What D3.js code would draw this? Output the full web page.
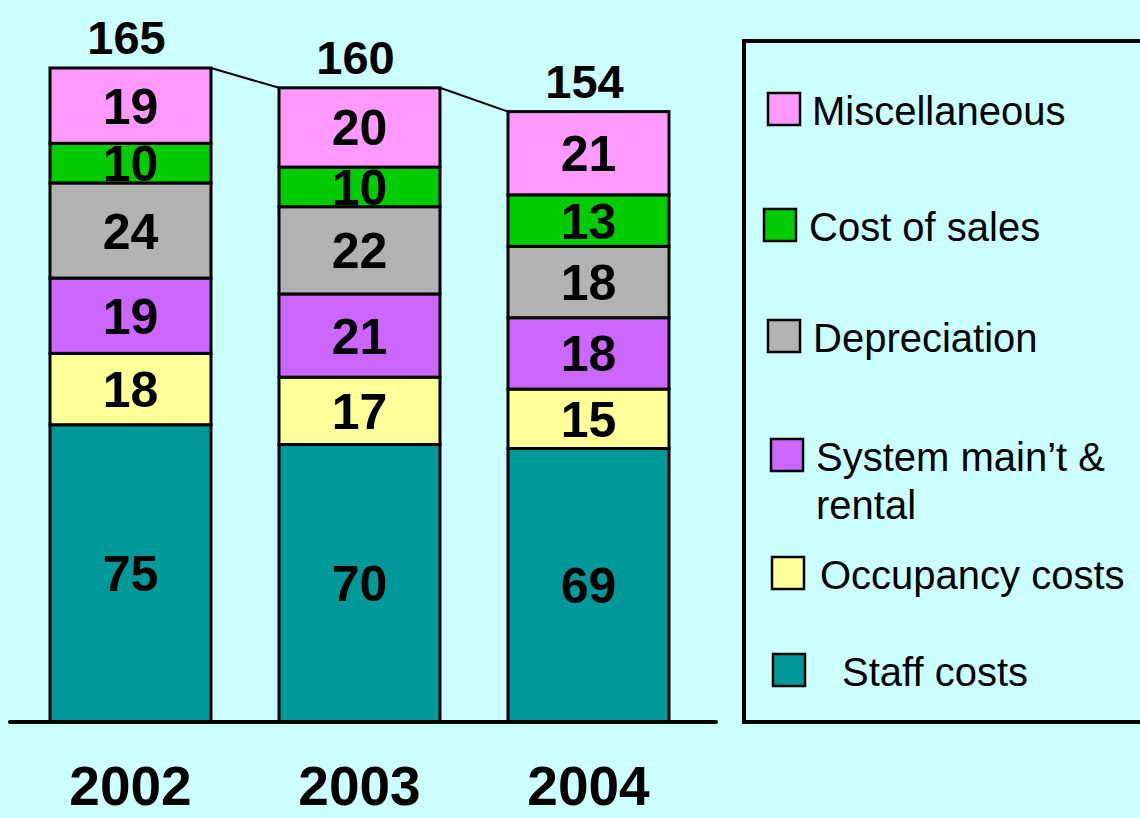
<!DOCTYPE html>
<html>
<head>
<meta charset="utf-8">
<script src="https://cdn.jsdelivr.net/npm/d3@7"></script>
<style>
  html, body { margin: 0; padding: 0; background: #CCFFFF; }
  svg { display: block; font-family: "Liberation Sans", Arial, sans-serif; }
</style>
</head>
<body>
<div id="chart"></div>
<script>
// data
const years = ["2002", "2003", "2004"];
const seriesKeys = ["staff", "occupancy", "system", "depreciation", "costOfSales", "misc"];
const seriesNames = ["Staff costs", "Occupancy costs", "System main\u2019t & rental", "Depreciation", "Cost of sales", "Miscellaneous"];
const seriesColors = ["#009999", "#FFFF99", "#CC66FF", "#B2B2B2", "#00CC00", "#FF99FF"];
const staff = [75, 70, 69];
const occupancy = [18, 17, 15];
const system = [19, 21, 18];
const depreciation = [24, 22, 18];
const costOfSales = [10, 10, 13];
const misc = [19, 20, 21];
const totals = [165, 160, 154];

const width = 1140, height = 818;

const svg = d3.select("#chart")
    .append("svg")
    .attr("width", width)
    .attr("height", height);

svg.append("rect")
    .attr("width", width)
    .attr("height", height)
    .attr("fill", "#CCFFFF");

// build rows for d3.stack
const values = {staff, occupancy, system, depreciation, costOfSales, misc};
const rows = years.map((y, i) => {
    const r = {year: y};
    seriesKeys.forEach(k => r[k] = values[k][i]);
    return r;
});
const stacked = d3.stack().keys(seriesKeys)(rows);

const x = d3.scaleBand()
    .domain(years)
    .range([50, 669])
    .paddingInner(0.297)
    .paddingOuter(0);

const y = d3.scaleLinear()
    .domain([0, 165])
    .range([722, 68]);

// connector lines between bar tops
for (let i = 0; i < years.length - 1; i++) {
    svg.append("line")
        .attr("x1", x(years[i]) + x.bandwidth())
        .attr("y1", y(totals[i]))
        .attr("x2", x(years[i + 1]))
        .attr("y2", y(totals[i + 1]))
        .attr("stroke", "black")
        .attr("stroke-width", 2);
}

// stacked segments
const layer = svg.append("g")
    .selectAll("g")
    .data(stacked)
    .join("g")
    .attr("fill", (d, i) => seriesColors[i]);

layer.selectAll("rect")
    .data(d => d)
    .join("rect")
    .attr("x", d => x(d.data.year))
    .attr("y", d => y(d[1]))
    .attr("width", x.bandwidth())
    .attr("height", d => y(d[0]) - y(d[1]))
    .attr("stroke", "black")
    .attr("stroke-width", 3);

layer.selectAll("text")
    .data(d => d)
    .join("text")
    .attr("x", d => x(d.data.year) + x.bandwidth() / 2)
    .attr("y", d => (y(d[0]) + y(d[1])) / 2 + 18)
    .attr("text-anchor", "middle")
    .attr("fill", "black")
    .style("font-size", "50px")
    .style("font-weight", "bold")
    .text(d => d[1] - d[0]);

// totals above bars
svg.append("g")
    .selectAll("text")
    .data(totals)
    .join("text")
    .attr("x", (d, i) => x(years[i]) + x.bandwidth() / 2 - 4)
    .attr("y", d => y(d) - 14)
    .attr("text-anchor", "middle")
    .style("font-size", "47px")
    .style("font-weight", "bold")
    .text(d => d);

// baseline
svg.append("line")
    .attr("x1", 10)
    .attr("x2", 716)
    .attr("y1", y(0))
    .attr("y2", y(0))
    .attr("stroke", "black")
    .attr("stroke-width", 4)
    .attr("stroke-linecap", "round");

// year labels
svg.append("g")
    .selectAll("text")
    .data(years)
    .join("text")
    .attr("x", d => x(d) + x.bandwidth() / 2)
    .attr("y", 805)
    .attr("text-anchor", "middle")
    .style("font-size", "55px")
    .style("font-weight", "bold")
    .text(d => d);

// legend
svg.append("rect")
    .attr("x", 744)
    .attr("y", 41)
    .attr("width", 420)
    .attr("height", 681)
    .attr("fill", "none")
    .attr("stroke", "black")
    .attr("stroke-width", 4);

const legendOrder = [5, 4, 3, 2, 1, 0];
const legendSqX = [768, 764, 768, 771, 772, 773];
const legendSqY = [93, 209, 320, 439, 557, 654];
const legendTextX = [812, 809, 813, 816, 820, 842];

const legend = svg.append("g")
    .selectAll("g")
    .data(legendOrder)
    .join("g");

legend.append("rect")
    .attr("x", (d, i) => legendSqX[i])
    .attr("y", (d, i) => legendSqY[i])
    .attr("width", 32)
    .attr("height", 32)
    .attr("fill", d => seriesColors[d])
    .attr("stroke", "black")
    .attr("stroke-width", 2.5);

legend.each(function(d, i) {
    const name = seriesNames[d];
    const lines = name === "System main\u2019t & rental" ? ["System main\u2019t &", "rental"] : [name];
    const t = d3.select(this).append("text")
        .style("font-size", "40px")
        .attr("fill", "black");
    lines.forEach((ln, j) => {
        t.append("tspan")
            .attr("x", legendTextX[i])
            .attr("y", legendSqY[i] + 32 + j * 48)
            .text(ln);
    });
});
</script>
</body>
</html>
